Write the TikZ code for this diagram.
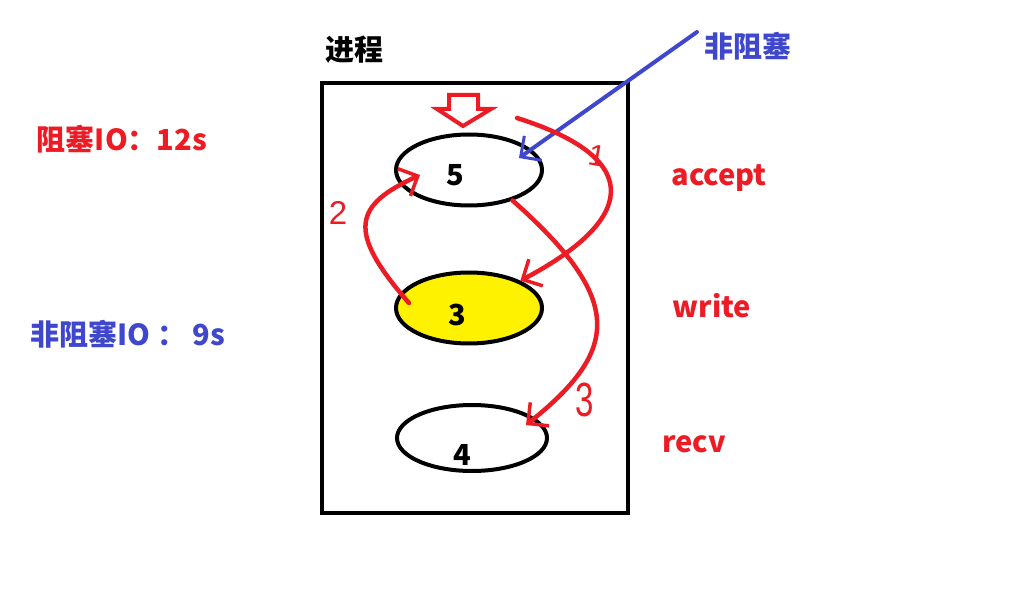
\documentclass[tikz,border=0pt]{standalone}
\usepackage{fontspec}
\setmainfont{Noto Sans CJK SC}
\newfontfamily\handfont{Liberation Sans}
\usetikzlibrary{arrows.meta,shapes.geometric}
\definecolor{paintred}{HTML}{ED1C24}
\definecolor{paintblue}{HTML}{3F48CC}
\definecolor{paintyellow}{HTML}{FFF200}
\tikzset{
    fdnode/.style={ellipse, draw, line width=4pt, minimum width=146pt, minimum height=71pt, inner sep=0pt},
    bigtext/.style={font=\fontsize{29}{32}\selectfont\bfseries, inner sep=0pt},
    hand/.style={paintred, font=\fontsize{30}{32}\selectfont\handfont, inner sep=0pt},
    redarrow/.style={paintred, line width=4.5pt, line cap=round, -{Straight Barb[length=15pt, width=30pt, line width=3.5pt]}},
}
\begin{document}
\begin{tikzpicture}[x=1pt, y=-1pt]
    \useasboundingbox (0,0) rectangle (1018,604);

    % Define the points of the picture
    \coordinate (redtop) at (517,118);
    \coordinate (bluefrom) at (697,32);
    \coordinate (blueto) at (519,158);
    \coordinate (from3) at (409,303);
    \coordinate (into5) at (420,175);
    \coordinate (into4) at (526,425);

    % Process box and the three descriptors
    \draw[line width=4.5pt] (322,83) rectangle (628,513);
    \node (fd5) at (469,170) [fdnode] {};
    \node (fd3) at (469,308) [fdnode, fill=paintyellow] {};
    \node (fd4) at (472,438) [fdnode, minimum width=150pt, minimum height=66pt] {};

    \node (t5) at (455,186) [bigtext, anchor=base] {5};
    \node (t3) at (457,325) [bigtext, anchor=base] {3};
    \node (t4) at (462,465) [bigtext, anchor=base] {4};

    % Hollow arrow on top of the first descriptor
    \draw[paintred, line width=4pt, line join=miter]
        (449,95) -- (478,95) -- (478,109) -- (491,109) -- (463,126) -- (437,109) -- (449,109) -- cycle;

    % Labels
    \node (title) at (354,50) [bigtext] {进程};
    \node (nonblk) at (748,46) [bigtext, paintblue] {非阻塞};
    \node (blkio) at (122,139) [bigtext, paintred] {阻塞IO：12s};
    \node (nbio) at (128,334) [bigtext, paintblue] {非阻塞IO ： 9s};
    \node (accept) at (719,186) [bigtext, paintred, anchor=base] {accept};
    \node (write) at (712,317) [bigtext, paintred, anchor=base] {write};
    \node (recv) at (694,452) [bigtext, paintred, anchor=base] {recv};

    % Blue arrow
    \draw[paintblue, line width=4pt, line cap=round,
          -{Straight Barb[length=15pt, width=30pt, line width=3pt]}] (bluefrom) -- (blueto);

    % Red handwritten order of the calls
    \draw[redarrow] (redtop) .. controls (650,160) and (632,222) .. (fd3.28);
    \draw[redarrow] (from3) .. controls (345,230) and (355,205) .. (into5);
    \draw[redarrow] (fd5.325) .. controls (625,300) and (620,350) .. (into4);

    \node (n1) at (597,156) [hand, rotate=-10] {1};
    \node (n2) at (338,213) [hand, scale=1.1] {2};
    \node (n3) at (585,400) [hand, xscale=1.1, yscale=1.6] {3};
\end{tikzpicture}
\end{document}
